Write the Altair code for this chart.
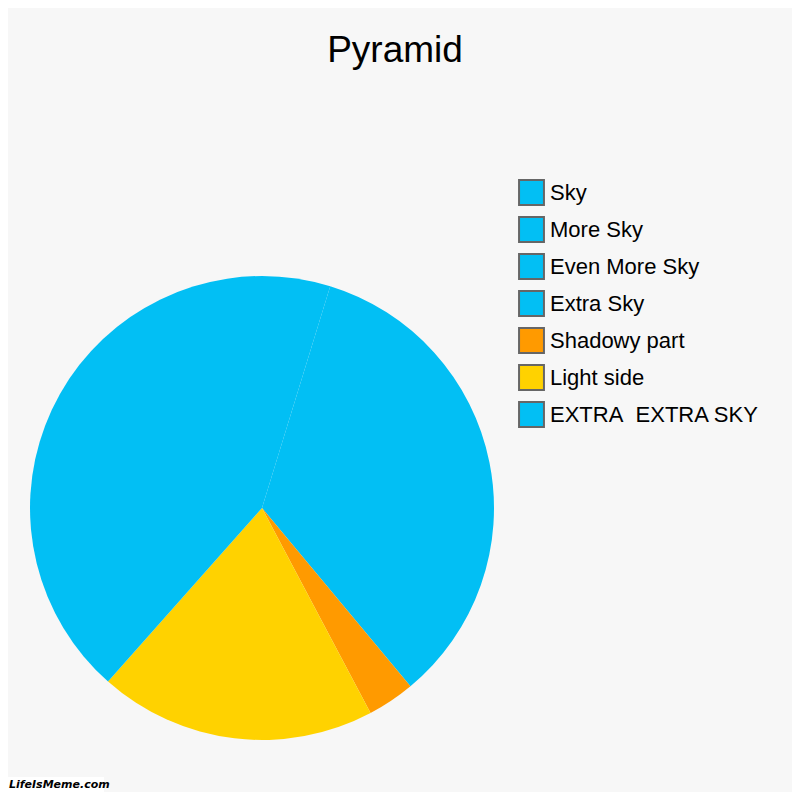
import altair as alt
import pandas as pd

categories = ["Sky", "More Sky", "Even More Sky", "Extra Sky",
              "Shadowy part", "Light side", "EXTRA\u00a0 EXTRA SKY"]
values = [4.75, 34.2, 0.0, 0.0, 3.3, 19.3, 38.45]
colors = ["#02BFF4", "#02BFF4", "#02BFF4", "#02BFF4",
          "#FF9A00", "#FFD200", "#02BFF4"]
title_text = ["Pyramid"]
watermark_text = ["LifeIsMeme.com"]

df = pd.DataFrame({"category": categories, "value": values,
                   "order": list(range(len(categories)))})

pie = alt.Chart(df).mark_arc(radius=232).encode(
    theta=alt.Theta("value:Q", stack=True),
    order=alt.Order("order:Q"),
    color=alt.Color(
        "category:N",
        scale=alt.Scale(domain=categories, range=colors),
        sort=categories,
        legend=alt.Legend(
            title=None, orient="none", legendX=510, legendY=171,
            symbolType="square", symbolSize=620,
            symbolStrokeColor="#666666", symbolStrokeWidth=2,
            symbolOpacity=1, labelFontSize=22, labelFont="Liberation Sans",
            labelColor="#000000", labelOffset=5, rowPadding=4, padding=0,
            labelLimit=400,
        ),
    ),
    x=alt.value(254),
    y=alt.value(500),
)

title = alt.Chart(pd.DataFrame({"t": title_text})).mark_text(
    font="Liberation Sans", fontSize=37, color="#000000",
    align="center", baseline="alphabetic",
).encode(text="t:N", x=alt.value(387), y=alt.value(54))

wm_box = alt.Chart(pd.DataFrame({"t": watermark_text})).mark_rect(
    color="#ffffff"
).encode(x=alt.value(0), x2=alt.value(96), y=alt.value(769), y2=alt.value(784))

wm = alt.Chart(pd.DataFrame({"t": watermark_text})).mark_text(
    font="DejaVu Sans", fontSize=11, fontWeight="bold", fontStyle="italic",
    color="#000000", align="left", baseline="alphabetic",
).encode(text="t:N", x=alt.value(1), y=alt.value(780))

chart = alt.layer(pie, title, wm_box, wm).properties(
    width=784, height=784, padding=0,
    autosize=alt.AutoSizeParams(type="none"),
    background="#f7f7f7",
).configure_view(stroke=None)

chart.save("out.html", embed_options={"renderer": "svg", "actions": False})
